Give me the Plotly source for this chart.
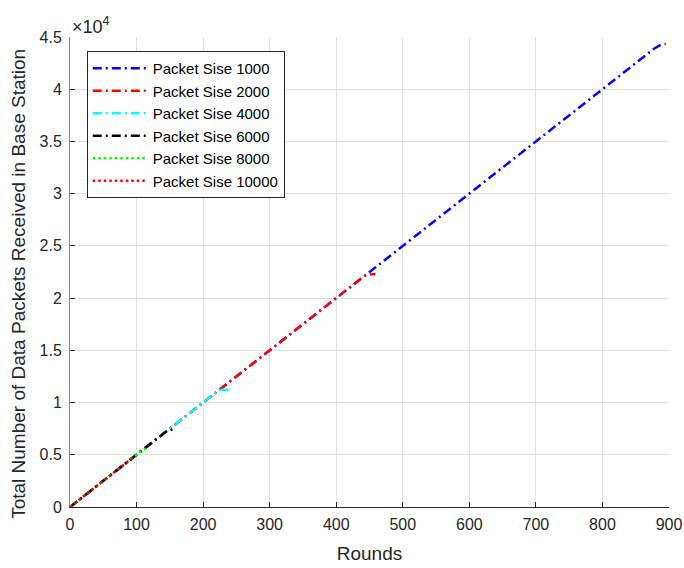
import plotly.graph_objects as go

# ---- data ----
series_names = ["Packet Sise 1000", "Packet Sise 2000", "Packet Sise 4000",
                "Packet Sise 6000", "Packet Sise 8000", "Packet Sise 10000"]

rounds_1000 = [0, 878, 886, 895]
packets_1000 = [0, 43900, 44200, 44330]

rounds_2000 = [0, 443, 450, 459]
packets_2000 = [0, 22150, 22250, 22300]

rounds_4000 = [0, 224, 233, 242]
packets_4000 = [0, 11200, 11230, 11220]

rounds_6000 = [0, 146, 155]
packets_6000 = [0, 7300, 7420]

rounds_8000 = [0, 110, 116]
packets_8000 = [0, 5500, 5620]

rounds_10000 = [0, 92, 96]
packets_10000 = [0, 4600, 4350]

x_ticks = [0, 100, 200, 300, 400, 500, 600, 700, 800, 900]
y_ticks = [0, 5000, 10000, 15000, 20000, 25000, 30000, 35000, 40000, 45000]
y_tick_text = ["0", "0.5", "1", "1.5", "2", "2.5", "3", "3.5", "4", "4.5"]

# ---- styles ----
colors = ["#0000ff", "#ff0000", "#00ffff", "#000000", "#00ff00", "#ff0000"]
dashdot = "9px,4px,2px,4px"
dot = "2.5px,3px"
dashes = [dashdot, dashdot, dashdot, dashdot, dot, dot]

xs = [rounds_1000, rounds_2000, rounds_4000, rounds_6000, rounds_8000, rounds_10000]
ys = [packets_1000, packets_2000, packets_4000, packets_6000, packets_8000, packets_10000]

fig = go.Figure()
for i in range(len(series_names)):
    fig.add_trace(go.Scatter(
        x=xs[i], y=ys[i], mode="lines", name=series_names[i],
        legendgroup="g%d" % i,
        line=dict(color=colors[i], width=2.5, dash=dashes[i]),
    ))

font_family = "Liberation Sans, Arial, sans-serif"

fig.update_layout(
    width=684, height=568,
    margin=dict(l=70, r=15, t=37, b=61, autoexpand=False),
    paper_bgcolor="white", plot_bgcolor="white",
    font=dict(family=font_family, color="#262626", size=16),
    showlegend=True,
    legend=dict(
        x=0.028, y=0.97, xanchor="left", yanchor="top",
        bgcolor="white", bordercolor="#262626", borderwidth=1,
        font=dict(family=font_family, size=15, color="#000000"),
        tracegroupgap=0, itemwidth=55,
    ),
    xaxis=dict(
        range=[0, 900], tickvals=x_ticks, automargin=False,
        showgrid=True, gridcolor="#e0e0e0", gridwidth=1,
        zeroline=False,
        showline=True, linecolor="#262626", linewidth=1,
        ticks="inside", ticklen=5, tickcolor="#262626",
        ticklabelstandoff=3,
        tickfont=dict(size=16, color="#262626"),
        title=dict(text="Rounds", font=dict(size=19, color="#262626"), standoff=14),
    ),
    yaxis=dict(
        range=[0, 45000], tickvals=y_ticks, ticktext=y_tick_text, automargin=False,
        showgrid=True, gridcolor="#e0e0e0", gridwidth=1,
        zeroline=False,
        showline=True, linecolor="#8a8a8a", linewidth=1,
        ticks="inside", ticklen=5, tickcolor="#262626",
        ticklabelstandoff=4,
        tickfont=dict(size=16, color="#262626"),
    ),
)

# y-axis title as a rotated annotation (positioned like the reference)
fig.add_annotation(
    xref="paper", yref="paper", x=-0.085, y=0.475, xanchor="center", yanchor="middle",
    text="Total Number of Data Packets Received in Base Station", textangle=-90,
    showarrow=False, font=dict(family=font_family, size=19, color="#262626"),
)

fig.add_annotation(
    xref="paper", yref="paper", x=0, y=1, xanchor="left", yanchor="bottom",
    text="×10<sup>4</sup>", showarrow=False, xshift=0, yshift=-2,
    font=dict(family=font_family, size=18, color="#262626"),
)

fig.write_html("out.html")
